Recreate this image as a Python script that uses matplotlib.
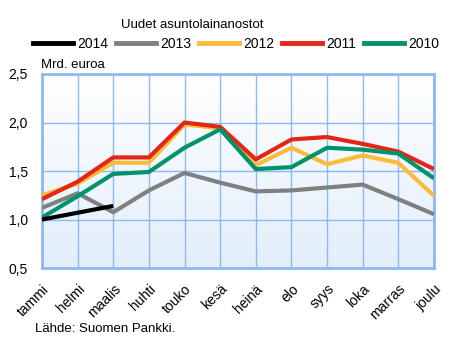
import numpy as np
import matplotlib
matplotlib.use("Agg")
import matplotlib.pyplot as plt
from matplotlib.lines import Line2D

plt.rcParams["font.family"] = ["Liberation Sans", "DejaVu Sans"]

kuukaudet = ["tammi", "helmi", "maalis", "huhti", "touko", "kesä",
             "heinä", "elo", "syys", "loka", "marras", "joulu"]
v2014 = [1.00, 1.07, 1.14]
v2013 = [1.12, 1.27, 1.075, 1.30, 1.48, 1.38, 1.29, 1.30, 1.33, 1.36, 1.21, 1.055]
v2012 = [1.25, 1.37, 1.585, 1.585, 1.98, 1.94, 1.56, 1.74, 1.57, 1.66, 1.585, 1.245]
v2011 = [1.21, 1.39, 1.64, 1.64, 2.00, 1.955, 1.62, 1.825, 1.85, 1.78, 1.70, 1.52]
v2010 = [1.02, 1.24, 1.47, 1.49, 1.74, 1.93, 1.52, 1.54, 1.74, 1.72, 1.68, 1.425]
y_ticks = [0.5, 1.0, 1.5, 2.0, 2.5]

VARIT = {"2014": "#000000", "2013": "#808080", "2012": "#fbbc3a",
         "2011": "#e32618", "2010": "#00936b"}
GRID = "#8fb8f0"

fig = plt.figure(figsize=(4.6, 3.41), dpi=100)
ax = fig.add_axes([0.0913, 0.214, 0.852, 0.569])

x = np.arange(len(kuukaudet))
# taustan liukuvari: valkoinen ylhaalla, vaaleansininen alhaalla
grad = np.linspace(1, 0, 256).reshape(-1, 1)
cmap = matplotlib.colors.LinearSegmentedColormap.from_list("bg", ["#ffffff", "#e2eefb"])
ax.imshow(grad, extent=[0, 11, 0.5, 2.5], aspect="auto", cmap=cmap, zorder=0,
          origin="lower")

sarjat = [("2013", v2013), ("2012", v2012), ("2011", v2011),
          ("2010", v2010), ("2014", v2014)]
for nimi, arvot in sarjat:
    ax.plot(x[:len(arvot)], arvot, color=VARIT[nimi], lw=3.0,
            solid_capstyle="butt", zorder=3)

ax.set_xlim(0, 11)
ax.set_ylim(0.5, 2.5)
ax.set_xticks(x)
ax.set_xticklabels(kuukaudet, rotation=45, ha="right", rotation_mode="anchor",
                   fontsize=10)
ax.set_yticks(y_ticks)
ax.set_yticklabels([f"{t:.1f}".replace(".", ",") for t in y_ticks], fontsize=10)
ax.tick_params(length=0)
ax.tick_params(axis="x", pad=10)
ax.tick_params(axis="y", pad=10)
ax.grid(True, color=GRID, lw=1.0, zorder=1)
ax.set_axisbelow(True)
for s in ax.spines.values():
    s.set_color(GRID)
    s.set_linewidth(2.0)

fig.text(0.262, 0.928, "Uudet asuntolainanostot", fontsize=9.5, va="center")
fig.text(0.089, 0.810, "Mrd. euroa", fontsize=9.5, va="center")
fig.text(0.076, 0.036, "Lähde: Suomen Pankki.", fontsize=9.5, va="center")

handles = [Line2D([], [], color=VARIT[n], lw=3.5) for n in ["2014", "2013", "2012", "2011", "2010"]]
fig.legend(handles, ["2014", "2013", "2012", "2011", "2010"], loc="center",
           bbox_to_anchor=(0.513, 0.872), ncol=5, frameon=False, fontsize=10,
           handlelength=2.9, handletextpad=0.3, columnspacing=0.55)

fig.savefig("out.png", dpi=100)
